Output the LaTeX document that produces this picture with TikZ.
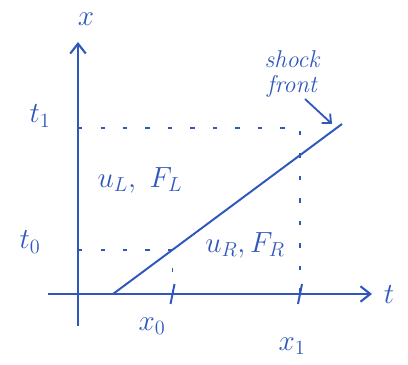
\documentclass[tikz,border=0pt]{standalone}
\usepackage{amsmath}
\usetikzlibrary{arrows.meta, calc}
\definecolor{ink}{RGB}{48,88,188}

\begin{document}
\begin{tikzpicture}[x=0.025cm, y=-0.025cm, >=Stealth]

  \tikzset{
    axis/.style = {
      draw=ink, line width=1.5pt, -{Straight Barb[length=7pt, width=11pt]}
    },
    shockline/.style = {draw=ink, line width=1.4pt},
    guide/.style = {draw=ink, line width=1.3pt, dash pattern=on 3pt off 13pt},
    tickmark/.style = {draw=ink, line width=1.4pt},
    pointer/.style = {
      draw=ink, line width=1.3pt, -{Straight Barb[length=5pt, width=9pt]}
    },
    lbl/.style = {text=ink, font=\huge, inner sep=1pt},
    note/.style = {
      text=ink, font=\LARGE\itshape, align=center, inner sep=1pt,
      execute at begin node=\setlength{\baselineskip}{0.62cm}
    }
  }

  \useasboundingbox (0,0) rectangle (408,365);

  % --- Axes --------------------------------------------------------------
  \coordinate (origin) at (78,294);
  \coordinate (xtip)   at (78,42);
  \coordinate (xbot)   at (78,326);
  \coordinate (tleft)  at (48,294);
  \coordinate (ttip)   at (372,294);

  \draw [axis] (xbot)  -- (xtip);
  \draw [axis] (tleft) -- (ttip);

  \node (xlbl) [lbl] at (86,19)  {$x$};
  \node (tlbl) [lbl] at (389,295) {$t$};

  % --- Shock front -------------------------------------------------------
  \coordinate (s0) at (113,294);
  \coordinate (s1) at (342,124);
  \draw [shockline] (s0) -- (s1);

  \coordinate (p0) at ($(s0)!0.26!(s1)$);
  \coordinate (p1) at (300,128);

  % --- Guide lines to t0/x0 and t1/x1 ------------------------------------
  \draw [guide] (origin |- p0) -- (p0) -- (p0 |- origin);
  \draw [guide] (origin |- p1) -- (p1) -- (p1 |- origin);

  \coordinate (x0tick) at (p0 |- origin);
  \coordinate (x1tick) at (p1 |- origin);
  \draw [tickmark] ([shift={(2,-10)}]x0tick) -- ([shift={(-2,10)}]x0tick);
  \draw [tickmark] ([shift={(2,-10)}]x1tick) -- ([shift={(-2,10)}]x1tick);

  \node (t0lbl) [lbl] at (30,242) {$t_0$};
  \node (t1lbl) [lbl] at (40,116) {$t_1$};
  \node (x0lbl) [lbl] at (152,326) {$x_0$};
  \node (x1lbl) [lbl] at (292,346) {$x_1$};

  % --- States on both sides ----------------------------------------------
  \node (left)  [lbl] at (140,180) {$u_L,\ F_L$};
  \node (right) [lbl] at (245,245) {$u_R, F_R$};

  % --- Shock front note ---------------------------------------------------
  \node (shocklbl) [note] at (292,74) {shock\\front};
  \coordinate (shockhit) at (332,124);
  \draw [pointer] ([xshift=-0.4cm]shocklbl.south east) -- (shockhit);

\end{tikzpicture}
\end{document}
